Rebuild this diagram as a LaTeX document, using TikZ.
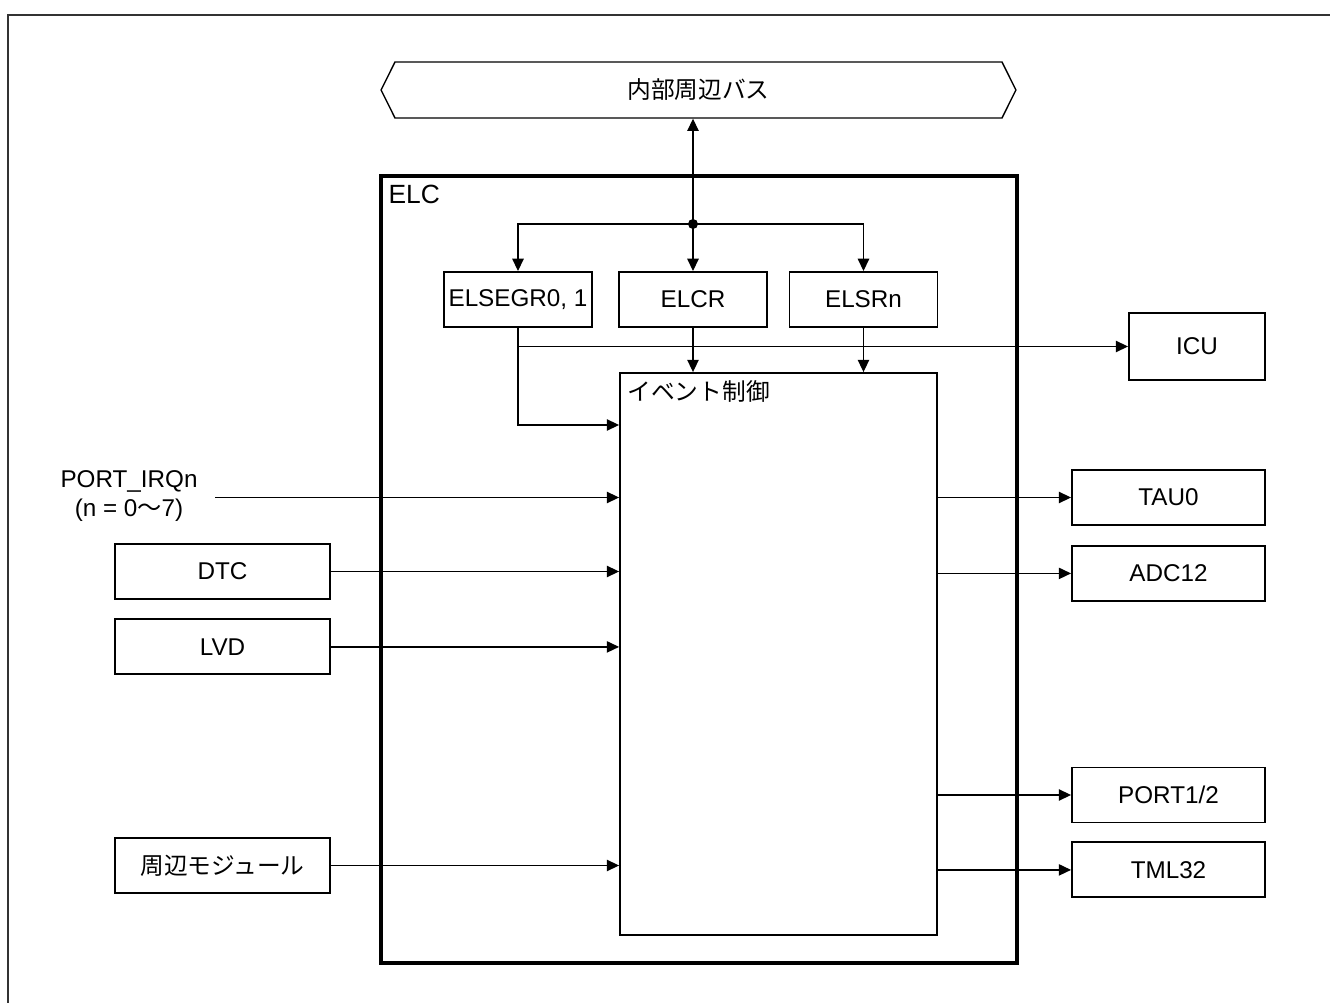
\documentclass[tikz,border=0pt]{standalone}
\usepackage{fontspec}
\setmainfont{Liberation Sans}
\newfontfamily\jpfont{Noto Sans CJK JP}
\newcommand\jptext[1]{{\jpfont\fontsize{13.5}{16}\selectfont #1}}
\usetikzlibrary{arrows.meta,calc,positioning,shapes.symbols}
\tikzset{
  elc block/.style={
    draw=black,
    line width=1.1pt,
    fill=white,
    align=center,
    inner sep=2pt,
    font=\fontsize{13.8}{16.5}\selectfont
  },
  elc reg/.style={elc block,minimum width=2.96cm,minimum height=1.1cm},
  elc side/.style={elc block,minimum width=4.3cm,minimum height=1.1cm},
  elc target/.style={elc block,minimum width=3.86cm,minimum height=1.1cm},
  elc bus/.style={
    draw=black,
    line width=0.8pt,
    shape=signal,
    signal to=west and east,
    signal pointer angle=127,
    minimum width=12.7cm,
    minimum height=1.12cm,
    font=\fontsize{13.8}{16.5}\selectfont
  },
  elc frame/.style={draw=black,line width=2pt},
  elc flow/.style={-{Triangle[length=7pt,width=6.5pt]},draw=black,line width=0.7pt},
  elc caption/.style={inner sep=0pt,anchor=north west,font=\fontsize{13.8}{16.5}\selectfont},
  elc label/.style={inner ysep=2pt,inner xsep=10pt,align=center,font=\fontsize{13.8}{16.5}\selectfont}
}

\begin{document}
\begin{tikzpicture}[x=0.02cm,y=-0.02cm]
  \useasboundingbox (0,0) rectangle (1330,1003);
  \draw[line width=0.9pt,draw=black!80] (8,1003) -- (8,15) -- (1330,15);

  \node[elc bus] (bus) at (698.5,90) {\jptext{内部周辺バス}};
  \node[elc frame,minimum width=12.72cm,minimum height=15.74cm] (elc) at (699,569.5) {};
  \node[elc caption,font=\fontsize{15}{17}\selectfont] (elcname) at ($(elc.north west)+(9,10)$) {ELC};

  \coordinate (jct) at (693,224);
  \node[elc reg] (elsegr) at (518,299.5) {ELSEGR0, 1};
  \node[elc reg] (elcr) at (693,299.5) {ELCR};
  \node[elc reg] (elsrn) at (863.5,299.5) {ELSRn};
  \node[elc block,minimum width=6.34cm,minimum height=11.24cm] (evt) at (778.5,654) {};
  \node[elc caption] (evtname) at ($(evt.north west)+(8,8)$) {\jptext{イベント制御}};
  \node[elc block,minimum width=2.72cm,minimum height=1.34cm] (icu) at (1197,346.5) {ICU};
  \coordinate (segy) at (0,425);

  \node[elc label] (irq) at (129,496) {PORT\_IRQn\\(n = 0{\jpfont 〜}7)};
  \node[elc side] (dtc) at (222.5,571.5) {DTC};
  \node[elc side,below=0.37cm of dtc] (lvd) {LVD};
  \node[elc side] (periph) at (222.5,865.5) {\jptext{周辺モジュール}};

  \node[elc target] (tau) at (1168.5,497.5) {TAU0};
  \node[elc target,below=0.38cm of tau] (adc) {ADC12};
  \node[elc target] (port) at (1168.5,795) {PORT1/2};
  \node[elc target,below=0.36cm of port] (tml) {TML32};

  \draw[elc flow] (jct) -- (jct |- bus.south);
  \draw[elc flow] (jct) -| (elsegr.north);
  \draw[elc flow] (jct) -- (elcr.north);
  \draw[elc flow] (jct) -| (elsrn.north);
  \fill (jct) circle (5);

  \draw[elc flow] (elsegr.south) |- (evt.west |- segy);
  \draw[elc flow] (elsegr.south |- icu.west) -- (icu.west);
  \draw[elc flow] (elcr.south) -- (elcr.south |- evt.north);
  \draw[elc flow] (elsrn.south) -- (elsrn.south |- evt.north);

  \draw[elc flow] (irq.east |- tau) -- (tau -| evt.west);
  \draw[elc flow] (dtc) -- (dtc -| evt.west);
  \draw[elc flow] (lvd) -- (lvd -| evt.west);
  \draw[elc flow] (periph) -- (periph -| evt.west);

  \draw[elc flow] (tau -| evt.east) -- (tau);
  \draw[elc flow] (adc -| evt.east) -- (adc);
  \draw[elc flow] (port -| evt.east) -- (port);
  \draw[elc flow] (tml -| evt.east) -- (tml);
\end{tikzpicture}
\end{document}
